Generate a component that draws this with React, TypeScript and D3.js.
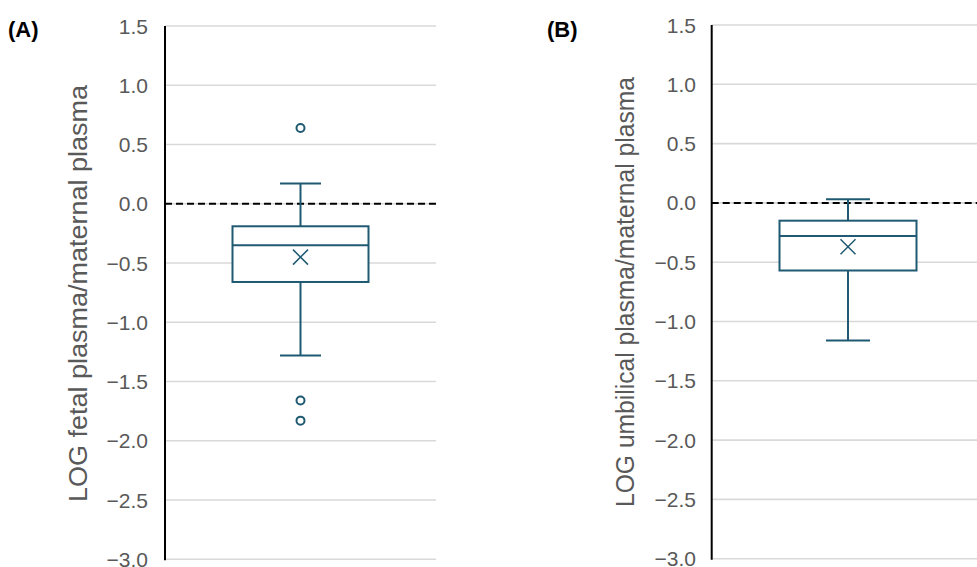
import React from "react";
import * as d3 from "d3";

// Y axis ticks shared by both panels
const yTicks = [1.5, 1.0, 0.5, 0.0, -0.5, -1.0, -1.5, -2.0, -2.5, -3.0];

// Panel A: fetal plasma / maternal plasma (log ratio)
const statsA = { max: 0.17, q3: -0.19, median: -0.35, mean: -0.45, q1: -0.66, min: -1.28 };
const outliersA = [0.64, -1.66, -1.83];

// Panel B: umbilical plasma / maternal plasma (log ratio)
const statsB = { max: 0.03, q3: -0.15, median: -0.28, mean: -0.37, q1: -0.57, min: -1.16 };
const outliersB: number[] = [];

const panelLabels = ["(A)", "(B)"];
const axisTitles = ["LOG fetal plasma/maternal plasma", "LOG umbilical plasma/maternal plasma"];

const BOX = "#1f5a72";
const GRID = "#d9d9d9";
const TICK = "#595959";
const FONT = "'Liberation Sans', Arial, sans-serif";

type Stats = typeof statsA;

interface PanelProps {
  stats: Stats;
  outliers: number[];
  label: string;
  title: string;
  labelX: number;
  axisX: number;
  plotRight: number;
  yTop: number;
  yBottom: number;
  tickX: number;
  titleX: number;
  titleY: number;
  titleLen: number;
  boxW: number;
  capW: number;
}

function Panel(p: PanelProps) {
  const y = d3.scaleLinear().domain([-3, 1.5]).range([p.yBottom, p.yTop]);
  const x = d3.scaleLinear().domain([0, 1]).range([p.axisX, p.plotRight]);
  const cx = x(0.5);
  const s = p.stats;
  const xs = 7.5;
  return (
    <g>
      <text x={p.labelX} y={37} fontFamily={FONT} fontWeight="bold" fontSize={22} fill="#000">
        {p.label}
      </text>
      {yTicks.map((t) => (
        <line key={"g" + t} x1={p.axisX} x2={p.plotRight} y1={y(t)} y2={y(t)} stroke={GRID} strokeWidth={1.6} />
      ))}
      {yTicks.map((t) => (
        <text
          key={"t" + t}
          x={p.tickX}
          y={y(t)}
          dy="0.36em"
          textAnchor="end"
          fontFamily={FONT}
          fontSize={21}
          fill={TICK}
        >
          {t < 0 ? "\u2212" + d3.format(".1f")(-t) : d3.format(".1f")(t)}
        </text>
      ))}
      <text
        transform={`translate(${p.titleX},${p.titleY}) rotate(-90)`}
        textAnchor="middle"
        fontFamily={FONT}
        fontSize={26}
        fill={TICK}
        textLength={p.titleLen}
        lengthAdjust="spacingAndGlyphs"
      >
        {p.title}
      </text>
      {/* zero reference */}
      <line x1={p.axisX} x2={p.plotRight} y1={y(0)} y2={y(0)} stroke="#000" strokeWidth={2} strokeDasharray="7,4" />
      {/* whiskers */}
      <line x1={cx} x2={cx} y1={y(s.max)} y2={y(s.q3)} stroke={BOX} strokeWidth={2} />
      <line x1={cx} x2={cx} y1={y(s.q1)} y2={y(s.min)} stroke={BOX} strokeWidth={2} />
      <line x1={cx - p.capW / 2} x2={cx + p.capW / 2} y1={y(s.max)} y2={y(s.max)} stroke={BOX} strokeWidth={2} />
      <line x1={cx - p.capW / 2} x2={cx + p.capW / 2} y1={y(s.min)} y2={y(s.min)} stroke={BOX} strokeWidth={2} />
      {/* box */}
      <rect
        x={cx - p.boxW / 2}
        y={y(s.q3)}
        width={p.boxW}
        height={y(s.q1) - y(s.q3)}
        fill="#fff"
        stroke={BOX}
        strokeWidth={2}
      />
      <line x1={cx - p.boxW / 2} x2={cx + p.boxW / 2} y1={y(s.median)} y2={y(s.median)} stroke={BOX} strokeWidth={2} />
      {/* mean marker */}
      <path
        d={`M${cx - xs},${y(s.mean) - xs}L${cx + xs},${y(s.mean) + xs}M${cx - xs},${y(s.mean) + xs}L${cx + xs},${y(s.mean) - xs}`}
        stroke={BOX}
        strokeWidth={1.5}
        fill="none"
      />
      {p.outliers.map((o, i) => (
        <circle key={i} cx={cx} cy={y(o)} r={4} fill="#fff" stroke={BOX} strokeWidth={2} />
      ))}
      {/* y axis line */}
      <line x1={p.axisX} x2={p.axisX} y1={p.yTop} y2={p.yBottom + 1} stroke="#000" strokeWidth={2} />
    </g>
  );
}

export default function App() {
  return (
    <svg width={977} height={567} style={{ position: "absolute", left: 0, top: 0, background: "#fff" }}>
      <rect width={977} height={567} fill="#fff" />
      <Panel
        stats={statsA}
        outliers={outliersA}
        label={panelLabels[0]}
        title={axisTitles[0]}
        labelX={8}
        axisX={165}
        plotRight={436}
        yTop={26}
        yBottom={559.3}
        tickX={148}
        titleX={87}
        titleY={293.5}
        titleLen={417}
        boxW={136}
        capW={41}
      />
      <Panel
        stats={statsB}
        outliers={outliersB}
        label={panelLabels[1]}
        title={axisTitles[1]}
        labelX={547}
        axisX={711.7}
        plotRight={984.3}
        yTop={25}
        yBottom={558.7}
        tickX={696}
        titleX={634}
        titleY={292}
        titleLen={430}
        boxW={137}
        capW={44}
      />
    </svg>
  );
}
